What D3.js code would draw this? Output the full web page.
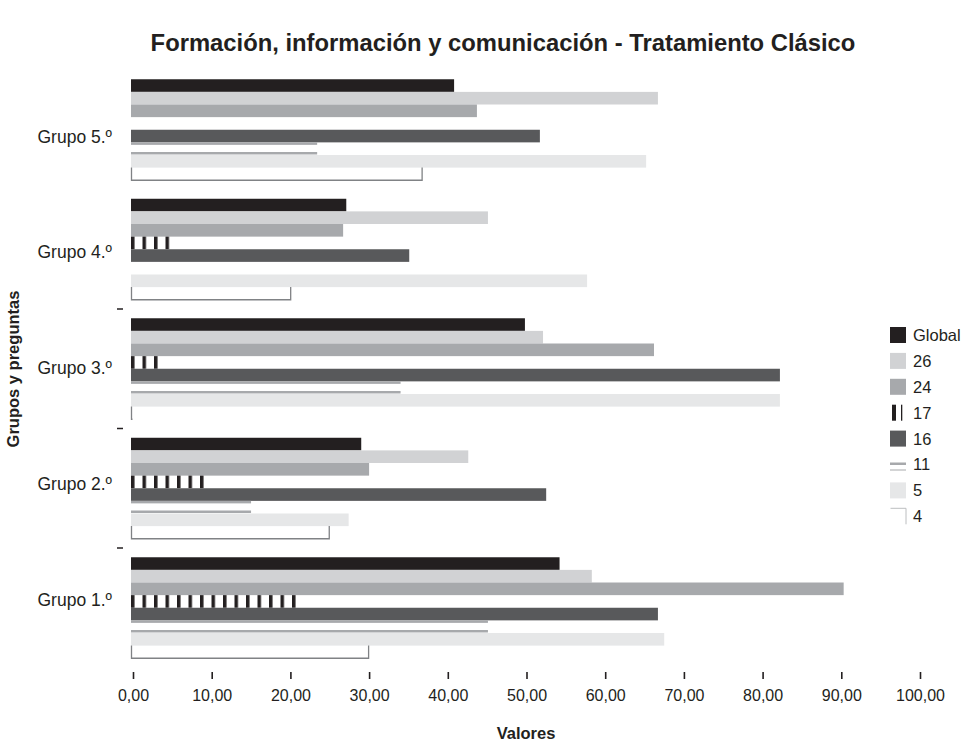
<!DOCTYPE html>
<html>
	<head>
		<meta charset="utf-8">
		<title>Formación, información y comunicación</title>
		<script src="https://d3js.org/d3.v7.min.js"></script>
		<style>
			body { margin: 0; background: #fff; }
			text { font-family: "Liberation Sans", Arial, sans-serif; fill: #231f20; }
		</style>
	</head>
	<body>
		<script>

			// data (group order top -> bottom)
			var groups = ["Grupo 5.º", "Grupo 4.º", "Grupo 3.º", "Grupo 2.º", "Grupo 1.º"];
			var series = ["Global", "26", "24", "17", "16", "11", "5", "4"];
			var v_global = [40.8, 27.1, 49.8, 29.0, 54.2];
			var v_26 = [66.7, 45.1, 52.1, 42.6, 58.3];
			var v_24 = [43.7, 26.7, 66.2, 30.0, 90.3];
			var v_17 = [0, 4.9, 3.8, 9.8, 21.2];
			var v_16 = [51.7, 35.1, 82.2, 52.5, 66.7];
			var v_11 = [23.4, 0, 34.0, 15.0, 45.1];
			var v_5 = [65.2, 57.7, 82.2, 27.4, 67.5];
			var v_4 = [36.8, 20.1, 0, 25.0, 30.0];
			var x_ticks = [0, 10, 20, 30, 40, 50, 60, 70, 80, 90, 100];

			var values = {
				"Global": v_global, "26": v_26, "24": v_24, "17": v_17,
				"16": v_16, "11": v_11, "5": v_5, "4": v_4
			};

			var width = 969;
			var height = 742;

			var svg = d3.select("body").append("svg")
				.attr("width", width)
				.attr("height", height);

			// pattern for 17 (vertical stripes)
			var defs = svg.append("defs");
			var p17 = defs.append("pattern")
				.attr("id", "stripes")
				.attr("patternUnits", "userSpaceOnUse")
				.attr("x", 131)
				.attr("width", 11.5)
				.attr("height", 20);
			p17.append("rect").attr("x", 0).attr("y", 0).attr("width", 3.5).attr("height", 20).attr("fill", "#231f20");

			var x = d3.scaleLinear().domain([0, 100]).range([133, 920]);

			var y = d3.scaleBand()
				.domain(groups)
				.range([70, 667.5])
				.paddingInner(0.155)
				.paddingOuter(0.0775);

			var ys = d3.scaleBand()
				.domain(series)
				.range([0, y.bandwidth()]);

			var solid = {
				"Global": "#231f20", "26": "#d1d2d4", "24": "#a7a9ac",
				"16": "#58595b", "5": "#e6e7e8"
			};

			// title
			svg.append("text")
				.attr("x", 503)
				.attr("y", 51)
				.attr("text-anchor", "middle")
				.style("font-size", "23.8px")
				.style("font-weight", "bold")
				.text("Formación, información y comunicación - Tratamiento Clásico");

			// bars
			var g = svg.selectAll("g.grp")
				.data(groups)
				.enter()
				.append("g")
				.attr("class", "grp")
				.attr("transform", function (d) { return "translate(0," + y(d) + ")"; });

			g.each(function (grp, gi) {
				var sel = d3.select(this);
				series.forEach(function (s) {
					var v = values[s][gi];
					var y0 = ys(s);
					var h = ys.bandwidth();
					var w = x(v) - x(0);
					if (solid[s]) {
						sel.append("rect")
							.attr("x", x(0) - 2).attr("y", y0)
							.attr("width", w + 2).attr("height", h)
							.attr("fill", solid[s]);
					}
					else if (s == "17") {
						if (v <= 0) return;
						sel.append("rect")
							.attr("x", x(0) - 2).attr("y", y0)
							.attr("width", w + 2).attr("height", h)
							.attr("fill", "url(#stripes)");
					}
					else if (s == "11") {
						if (v <= 0) return;
						sel.append("rect")
							.attr("x", x(0) - 2).attr("y", y0)
							.attr("width", w + 2).attr("height", 2.5)
							.attr("fill", "#a7a9ac");
						sel.append("rect")
							.attr("x", x(0) - 2).attr("y", y0 + h - 3)
							.attr("width", w + 2).attr("height", 2.5)
							.attr("fill", "#a7a9ac");
					}
					else if (s == "4") {
						sel.append("path")
							.attr("d", "M" + (x(0) - 1.5) + "," + y0 + "V" + (y0 + h) + "H" + (x(v) - 0.5) + (v > 0 ? "V" + y0 : ""))
							.attr("fill", "none")
							.attr("stroke", "#808285")
							.attr("stroke-width", 1.3);
					}
				});
			});

			// group labels (sit slightly closer together than the bands)
			svg.selectAll("text.glabel")
				.data(groups)
				.enter()
				.append("text")
				.attr("class", "glabel")
				.attr("x", 112)
				.attr("y", function (d) {
					var c = y(d) + y.bandwidth() / 2;
					return 368.5 + (c - 369) * 0.97;
				})
				.attr("text-anchor", "end")
				.attr("dy", "0.35em")
				.style("font-size", "17.5px")
				.text(function (d) { return d; });

			// short marks between groups (the top one is not drawn in the original)
			var bounds = groups.slice(1, groups.length - 1).map(function (d) {
				return y(d) + y.bandwidth() + (y.step() - y.bandwidth()) / 2;
			});
			svg.selectAll("line.ymark")
				.data(bounds)
				.enter()
				.append("line")
				.attr("x1", 117).attr("x2", 123)
				.attr("y1", function (d) { return d; })
				.attr("y2", function (d) { return d; })
				.attr("stroke", "#231f20")
				.attr("stroke-width", 1.5);

			// x axis
			var loc = d3.formatLocale({ decimal: ",", thousands: ".", grouping: [3], currency: ["", ""] });
			var xAxis = d3.axisBottom(x)
				.tickValues(x_ticks)
				.tickFormat(loc.format(".2f"))
				.tickSize(7)
				.tickPadding(11);

			var ax = svg.append("g")
				.attr("transform", "translate(0,672)")
				.call(xAxis);
			ax.select(".domain").remove();
			ax.selectAll(".tick line").attr("stroke", "#231f20").attr("stroke-width", 1.6);
			ax.selectAll(".tick text")
				.style("font-size", "16px")
				.style("font-family", "'Liberation Sans', Arial, sans-serif")
				.attr("fill", "#231f20");

			// axis titles
			svg.append("text")
				.attr("x", 526)
				.attr("y", 739)
				.attr("text-anchor", "middle")
				.style("font-size", "16.5px")
				.style("font-weight", "bold")
				.text("Valores");

			svg.append("text")
				.attr("transform", "translate(19,369) rotate(-90)")
				.attr("text-anchor", "middle")
				.style("font-size", "16.5px")
				.style("font-weight", "bold")
				.text("Grupos y preguntas");

			// legend
			var leg = svg.selectAll("g.leg")
				.data(series)
				.enter()
				.append("g")
				.attr("class", "leg")
				.attr("transform", function (d, i) { return "translate(890," + (327 + i * 25.9) + ")"; });

			leg.each(function (s) {
				var sel = d3.select(this);
				if (solid[s]) {
					sel.append("rect").attr("width", 16).attr("height", 16).attr("fill", solid[s]);
				}
				else if (s == "17") {
					sel.append("rect").attr("x", 2).attr("width", 4).attr("height", 16).attr("fill", "#231f20");
					sel.append("rect").attr("x", 11).attr("width", 1.3).attr("height", 16).attr("fill", "#231f20");
				}
				else if (s == "11") {
					sel.append("rect").attr("x", 0).attr("y", 6).attr("width", 16).attr("height", 2.5).attr("fill", "#a7a9ac");
					sel.append("rect").attr("x", 0).attr("y", 13).attr("width", 16).attr("height", 1).attr("fill", "#a7a9ac");
				}
				else {
					sel.append("path")
						.attr("d", "M0.5,0H16V16")
						.attr("fill", "none")
						.attr("stroke", "#bcbec0")
						.attr("stroke-width", 1);
				}
				sel.append("text")
					.attr("x", 23)
					.attr("y", 8)
					.attr("dy", "0.36em")
					.style("font-size", "16.5px")
					.text(s);
			});

		</script>
	</body>
</html>
